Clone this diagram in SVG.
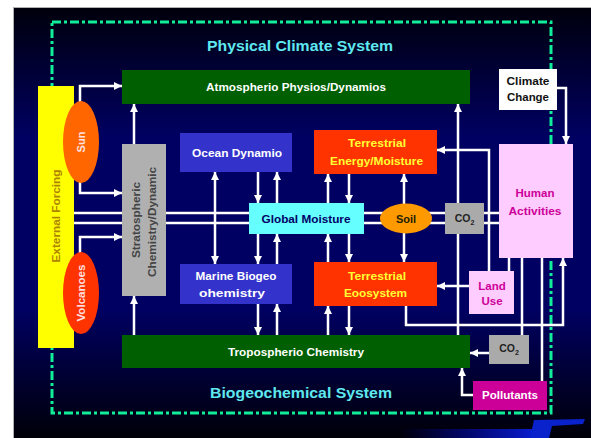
<svg xmlns="http://www.w3.org/2000/svg" width="591" height="438" viewBox="0 0 591 438">
<defs>
<linearGradient id="bg" x1="0" y1="0" x2="0" y2="1">
<stop offset="0" stop-color="#00000c"/>
<stop offset="0.3" stop-color="#000062"/>
<stop offset="0.7" stop-color="#000062"/>
<stop offset="1" stop-color="#000008"/>
</linearGradient>
<linearGradient id="logo" x1="0" y1="0" x2="1" y2="0">
<stop offset="0" stop-color="#0000cc" stop-opacity="0"/>
<stop offset="1" stop-color="#0a1ed0"/>
</linearGradient>
<marker id="ah" viewBox="0 0 10 10" refX="10" refY="5" markerUnits="userSpaceOnUse" markerWidth="9" markerHeight="8" orient="auto-start-reverse">
<path d="M0,0 L10,5 L0,10 z" fill="#ffffff"/>
</marker>
</defs>
<style>
.ln{fill:none;stroke:#ffffff;stroke-width:2.5}
.ar{fill:none;stroke:#ffffff;stroke-width:2.5;marker-end:url(#ah)}
.da{fill:none;stroke:#ffffff;stroke-width:2.5;marker-start:url(#ah);marker-end:url(#ah)}
.t{font-family:"Liberation Sans",Arial,sans-serif;font-weight:bold;text-anchor:middle}
.w{fill:#ffffff;font-size:11px}
.y{fill:#ffff33;font-size:11px}
.title{fill:#5fe8ef;font-size:15px}
.m{fill:#cc0099;font-size:11.5px}
</style>
<rect x="0" y="0" width="591" height="438" fill="#ffffff"/>
<rect x="13" y="7" width="578" height="431" fill="#b0b0b0"/>
<rect x="14" y="8" width="577" height="430" fill="url(#bg)"/>
<rect x="400" y="429" width="135" height="9" fill="url(#logo)"/>
<path d="M534,420 L585,419 L583,424 L552,426 L549,438 L530,438 Z" fill="#0a22cc"/>
<rect x="52" y="22" width="499" height="391" fill="none" stroke="#11ee99" stroke-width="3" stroke-dasharray="9,3,3,3"/>
<text class="t title" x="300" y="51" textLength="186" lengthAdjust="spacingAndGlyphs">Physical Climate System</text>
<text class="t title" x="301" y="398" textLength="182" lengthAdjust="spacingAndGlyphs">Biogeochemical System</text>
<g id="connectors">
<path class="ar" d="M80,110 V86 H122"/>
<path class="ar" d="M80,175 V193 H122"/>
<path class="ar" d="M80,262 V237 H122"/>
<path class="ln" d="M74,213 H499"/>
<path class="ln" d="M74,223 H499"/>
<path class="ar" d="M134,144 V104"/>
<path class="ar" d="M134,335 V296"/>
<path class="da" d="M215,172 V264"/>
<path class="ar" d="M258,172 V203"/>
<path class="ar" d="M258,234 V264"/>
<path class="ar" d="M258,304 V335"/>
<path class="ar" d="M277,203 V172"/>
<path class="ar" d="M277,264 V234"/>
<path class="ar" d="M277,335 V304"/>
<path class="ar" d="M328,203 V174"/>
<path class="ar" d="M328,262 V234"/>
<path class="ar" d="M328,335 V306"/>
<path class="ar" d="M349,174 V203"/>
<path class="ar" d="M349,234 V262"/>
<path class="ar" d="M349,306 V335"/>
<path class="ar" d="M404,210 V174"/>
<path class="ar" d="M404,228 V262"/>
<path class="ar" d="M458,335 V104"/>
<path class="ar" d="M489,271 V150 H437"/>
<path class="ar" d="M469,286 H437"/>
<path class="ar" d="M406,306 V325 H563 V258"/>
<path class="ln" d="M509,258 V271"/>
<path class="ln" d="M522,258 V335"/>
<path class="ln" d="M542,258 V381"/>
<path class="ar" d="M489,353 H470"/>
<path class="ar" d="M473,395 H462 V368"/>
<path class="ar" d="M557,88 H566 V144"/>
</g>
<g id="external-forcing">
<rect x="38" y="86" width="36" height="262" fill="#ffff00"/>
<text class="t" transform="translate(56,216) rotate(-90)" x="0" y="4" fill="#b08400" font-size="11" textLength="93" lengthAdjust="spacingAndGlyphs">External Forcing</text>
</g>
<g id="sun">
<ellipse cx="81" cy="142" rx="18" ry="41" fill="#ff6600"/>
<text class="t" transform="translate(81,142) rotate(-90)" x="0" y="4" fill="#ffe0e0" font-size="11">Sun</text>
</g>
<g id="volcanoes">
<ellipse cx="81" cy="293" rx="18" ry="41" fill="#ff3300"/>
<text class="t" transform="translate(81,293) rotate(-90)" x="0" y="4" fill="#ffe0e0" font-size="11" textLength="57" lengthAdjust="spacingAndGlyphs">Volcanoes</text>
</g>
<g id="atmospheric">
<rect x="122" y="70" width="348" height="34" fill="#005f00"/>
<text class="t w" x="296" y="91" textLength="180" lengthAdjust="spacingAndGlyphs">Atmospherio Physios/Dynamios</text>
</g>
<g id="stratospheric">
<rect x="122" y="144" width="44" height="152" fill="#b0b0b0"/>
<text class="t" transform="translate(144,220) rotate(-90)" x="0" y="-4" fill="#444444" font-size="11" textLength="76" lengthAdjust="spacingAndGlyphs">Stratospheric</text>
<text class="t" transform="translate(144,222) rotate(-90)" x="0" y="12" fill="#444444" font-size="11" textLength="110" lengthAdjust="spacingAndGlyphs">Chemistry/Dynamic</text>
</g>
<g id="ocean">
<rect x="180" y="133" width="112" height="39" fill="#3333cc"/>
<text class="t w" x="237" y="157" textLength="90" lengthAdjust="spacingAndGlyphs">Ocean Dynamio</text>
</g>
<g id="marine">
<rect x="180" y="264" width="112" height="40" fill="#3333cc"/>
<text class="t w" x="236" y="280" textLength="81" lengthAdjust="spacingAndGlyphs">Marine Biogeo</text>
<text class="t w" x="232" y="297" textLength="66" lengthAdjust="spacingAndGlyphs">ohemistry</text>
</g>
<g id="global-moisture">
<rect x="249" y="203" width="115" height="31" fill="#66ffff"/>
<text class="t" x="306" y="223" fill="#000066" font-size="11" textLength="89" lengthAdjust="spacingAndGlyphs">Global Moisture</text>
</g>
<g id="terr-energy">
<rect x="314" y="130" width="123" height="44" fill="#ff3300"/>
<text class="t y" x="377" y="147" textLength="58" lengthAdjust="spacingAndGlyphs">Terrestrial</text>
<text class="t y" x="376.5" y="165" textLength="93" lengthAdjust="spacingAndGlyphs">Energy/Moisture</text>
</g>
<g id="terr-ecosystem">
<rect x="314" y="262" width="123" height="44" fill="#ff3300"/>
<text class="t y" x="377" y="280" textLength="58" lengthAdjust="spacingAndGlyphs">Terrestrial</text>
<text class="t y" x="375.5" y="297" textLength="63" lengthAdjust="spacingAndGlyphs">Eoosystem</text>
</g>
<g id="soil">
<ellipse cx="406" cy="218.5" rx="26" ry="15" fill="#ff9900"/>
<text class="t" x="406" y="222.5" fill="#222200" font-size="11">Soil</text>
</g>
<g id="co2-a">
<rect x="445" y="203" width="39" height="31" fill="#aaaaaa"/>
<text class="t" x="464.5" y="222" fill="#222222" font-size="10.5">CO<tspan font-size="7" dy="3">2</tspan></text>
</g>
<g id="tropospheric">
<rect x="122" y="335" width="348" height="33" fill="#005f00"/>
<text class="t w" x="296" y="356" textLength="136" lengthAdjust="spacingAndGlyphs">Tropospherio Chemistry</text>
</g>
<g id="climate-change">
<rect x="499" y="69" width="58" height="41" fill="#ffffff"/>
<text class="t" x="528" y="85" fill="#111111" font-size="10.5" textLength="43" lengthAdjust="spacingAndGlyphs">Climate</text>
<text class="t" x="528" y="101" fill="#111111" font-size="10.5" textLength="42" lengthAdjust="spacingAndGlyphs">Change</text>
</g>
<g id="human-activities">
<rect x="499" y="144" width="74" height="114" fill="#ffccff"/>
<text class="t m" x="535" y="197">Human</text>
<text class="t m" x="535" y="215" textLength="53" lengthAdjust="spacingAndGlyphs">Activities</text>
</g>
<g id="land-use">
<rect x="469" y="271" width="45" height="43" fill="#ffccff"/>
<text class="t m" x="492" y="290">Land</text>
<text class="t m" x="492" y="305">Use</text>
</g>
<g id="co2-b">
<rect x="489" y="335" width="40" height="29" fill="#aaaaaa"/>
<text class="t" x="509" y="352" fill="#222222" font-size="10.5">CO<tspan font-size="7" dy="3">2</tspan></text>
</g>
<g id="pollutants">
<rect x="473" y="381" width="74" height="29" fill="#cc0099"/>
<text class="t w" x="510" y="399" textLength="56" lengthAdjust="spacingAndGlyphs">Pollutants</text>
</g>
</svg>
